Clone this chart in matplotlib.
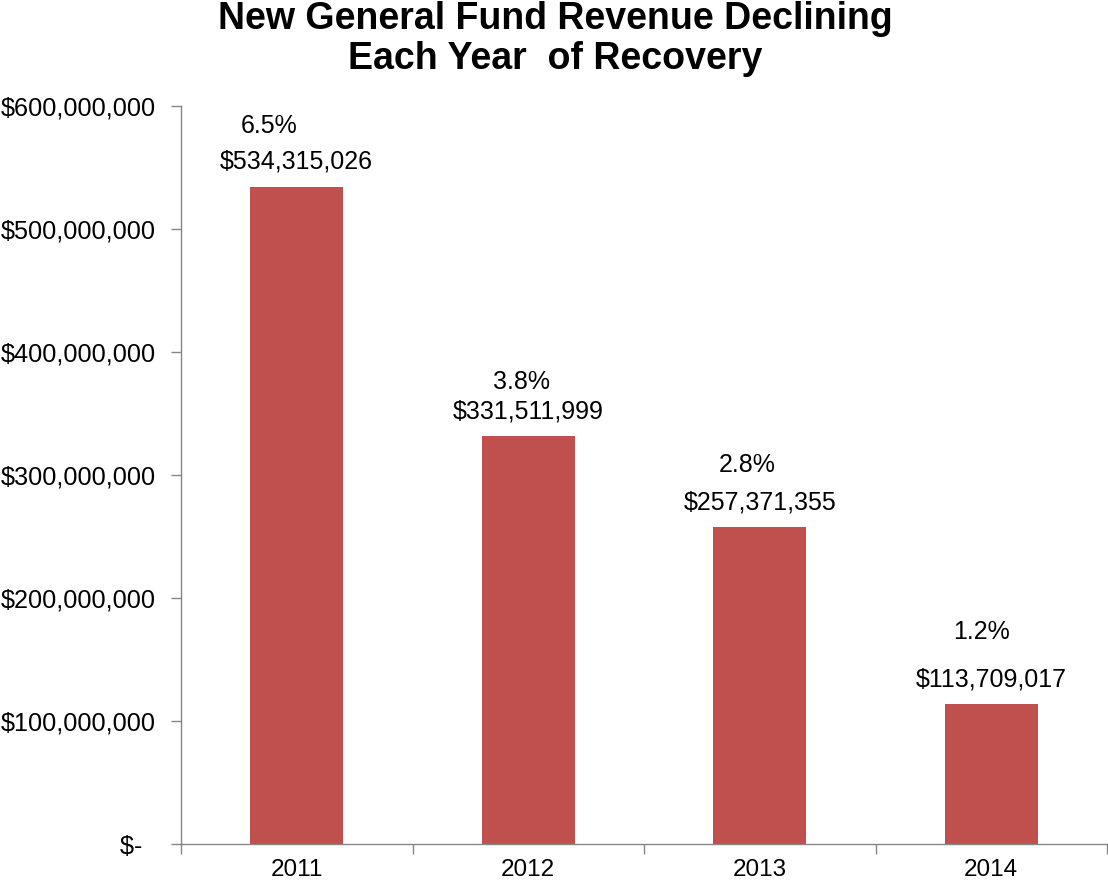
import matplotlib
matplotlib.use("Agg")
import matplotlib.pyplot as plt
from matplotlib.ticker import FuncFormatter

years = ["2011", "2012", "2013", "2014"]
revenue = [534315026, 331511999, 257371355, 113709017]
pct_labels = ["6.5%", "3.8%", "2.8%", "1.2%"]
# placement of percentage labels (data coords: x offset from bar centre, y value)
pct_dx = [-0.12, -0.03, -0.056, -0.04]
pct_y = [583.7e6, 375.6e6, 308e6, 172e6]

plt.rcParams['font.family'] = ['Liberation Sans', 'DejaVu Sans']

fig = plt.figure(figsize=(11.08, 8.83), dpi=100)
ax = fig.add_axes([181/1108, 1 - 844/883, (1107-181)/1108, (844-106)/883])

x = list(range(len(years)))
ax.bar(x, revenue, width=0.4, color='#C0504D', zorder=2)

ax.set_xlim(-0.5, len(years) - 0.5)
ax.set_ylim(0, 600e6)
ax.set_yticks([i * 100e6 for i in range(7)])

def fmt(v, pos):
    if v == 0:
        return "$-  "
    return "${:,.0f}".format(v)

ax.yaxis.set_major_formatter(FuncFormatter(fmt))
ax.set_xticks(x)
ax.set_xticklabels(years)
ax.set_xticks([i - 0.5 for i in range(len(years) + 1)], minor=True)
ax.tick_params(axis='x', which='major', length=0, labelsize=17.5, pad=11)
ax.tick_params(axis='x', which='minor', length=7, color='#868686', width=1)
ax.tick_params(axis='y', length=7, color='#868686', width=1, labelsize=18.2, pad=11)

for s in ['top', 'right']:
    ax.spines[s].set_visible(False)
for s in ['left', 'bottom']:
    ax.spines[s].set_color('#868686')
    ax.spines[s].set_linewidth(1)

for i, v in enumerate(revenue):
    ax.annotate("${:,.0f}".format(v), (i, v), xytext=(0, 18), textcoords='offset points',
                ha='center', va='center', fontsize=18)
    ax.text(i + pct_dx[i], pct_y[i], pct_labels[i], ha='center', va='center', fontsize=18)

fig.text(555/1108, 1 - 39/883, "New General Fund Revenue Declining\nEach Year  of Recovery",
         ha='center', va='center', fontsize=27, fontweight='bold', linespacing=1.12)

fig.savefig("out.png", dpi=100)
